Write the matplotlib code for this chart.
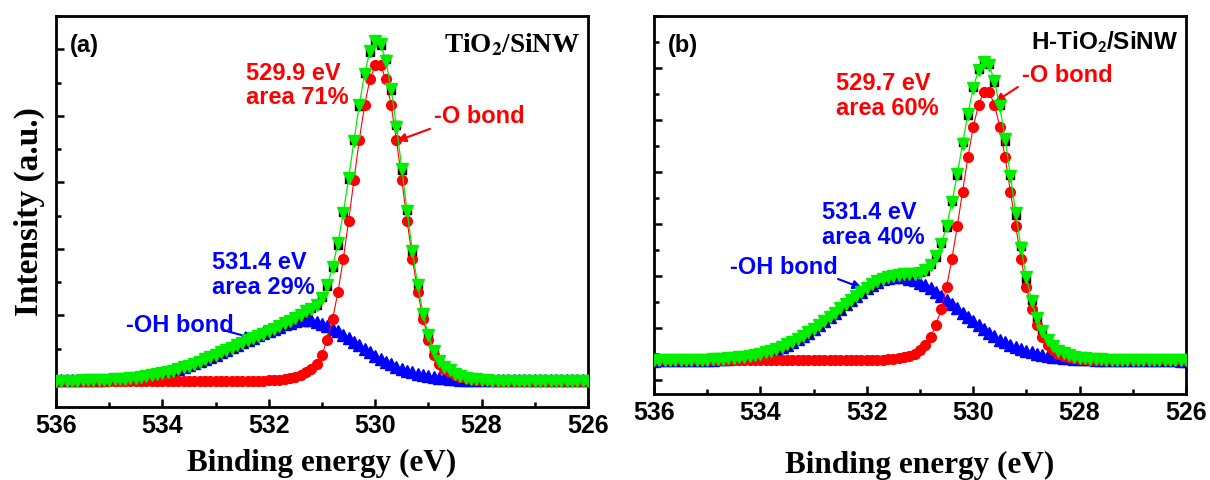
import numpy as np
import matplotlib
matplotlib.use("Agg")
import matplotlib.pyplot as plt
from matplotlib.ticker import MultipleLocator, NullFormatter

# binding energy grid, 0.1 eV steps from 536 to 526 eV
energy = np.linspace(536.0, 526.0, 101)

# ---- (a) TiO2/SiNW ----
raw_a = [1018, 1012, 1020, 1015, 1022, 1017, 1025, 1020, 1030, 1026,
         1036, 1033, 1045, 1044, 1058, 1060, 1078, 1080, 1102, 1108,
         1135, 1142, 1176, 1186, 1224, 1238, 1281, 1297, 1344, 1362,
         1412, 1434, 1486, 1506, 1560, 1580, 1633, 1652, 1700, 1718,
         1768, 1792, 1848, 1874, 1928, 1952, 2014, 2050, 2104, 2148,
         2270, 2440, 2730, 3060, 3550, 4045, 4630, 5150, 5645, 5955,
         6140, 6070, 5850, 5385, 4860, 4190, 3585, 2955, 2465, 2012,
         1710, 1450, 1325, 1215, 1180, 1108, 1090, 1052, 1055, 1030,
         1036, 1018, 1024, 1012, 1022, 1013, 1020, 1011, 1019, 1012,
         1020, 1010, 1018, 1013, 1021, 1011, 1019, 1012, 1020, 1013,
         1018]
o_a = [1015, 1015, 1015, 1015, 1015, 1015, 1015, 1015, 1015, 1015,
       1015, 1015, 1015, 1015, 1015, 1015, 1015, 1015, 1015, 1015,
       1015, 1015, 1015, 1015, 1015, 1015, 1015, 1015, 1015, 1015,
       1015, 1015, 1015, 1015, 1015, 1015, 1015, 1015, 1015, 1015,
       1020, 1025, 1030, 1040, 1050, 1070, 1100, 1150, 1195, 1275,
       1409, 1635, 1945, 2351, 2847, 3419, 4030, 4631, 5155, 5547,
       5756, 5756, 5547, 5155, 4631, 4030, 3419, 2847, 2351, 1945,
       1635, 1409, 1275, 1195, 1150, 1100, 1070, 1050, 1040, 1030,
       1025, 1020, 1015, 1015, 1015, 1015, 1015, 1015, 1015, 1015,
       1015, 1015, 1015, 1015, 1015, 1015, 1015, 1015, 1015, 1015,
       1015]
oh_a = [1020, 1021, 1022, 1023, 1024, 1025, 1027, 1029, 1031, 1034,
        1038, 1042, 1047, 1053, 1060, 1068, 1078, 1089, 1102, 1117,
        1134, 1153, 1174, 1197, 1222, 1249, 1278, 1309, 1341, 1375,
        1410, 1446, 1483, 1520, 1557, 1594, 1630, 1665, 1699, 1731,
        1762, 1795, 1830, 1862, 1890, 1912, 1926, 1930, 1922, 1902,
        1873, 1838, 1800, 1757, 1710, 1660, 1605, 1550, 1495, 1442,
        1392, 1345, 1302, 1262, 1226, 1194, 1165, 1140, 1118, 1099,
        1083, 1070, 1059, 1050, 1043, 1037, 1033, 1030, 1028, 1026,
        1025, 1024, 1023, 1023, 1022, 1022, 1022, 1021, 1021, 1021,
        1021, 1021, 1021, 1020, 1020, 1020, 1020, 1020, 1020, 1020,
        1020]
fit_a = [1015, 1016, 1017, 1018, 1019, 1020, 1022, 1024, 1026, 1029,
         1033, 1037, 1042, 1048, 1055, 1063, 1073, 1084, 1097, 1112,
         1129, 1148, 1169, 1192, 1217, 1244, 1273, 1304, 1336, 1370,
         1405, 1441, 1478, 1515, 1552, 1589, 1625, 1660, 1694, 1726,
         1762, 1800, 1840, 1882, 1920, 1962, 2006, 2060, 2097, 2157,
         2262, 2453, 2725, 3088, 3537, 4059, 4615, 5161, 5630, 5969,
         6128, 6081, 5829, 5397, 4837, 4204, 3564, 2967, 2449, 2024,
         1698, 1459, 1314, 1225, 1173, 1117, 1083, 1060, 1048, 1036,
         1030, 1024, 1018, 1018, 1017, 1017, 1017, 1016, 1016, 1016,
         1016, 1016, 1016, 1015, 1015, 1015, 1015, 1015, 1015, 1015,
         1015]

# ---- (b) H-TiO2/SiNW ----
raw_b = [1384, 1376, 1385, 1379, 1388, 1381, 1390, 1384, 1394, 1388,
         1400, 1394, 1409, 1405, 1422, 1420, 1442, 1445, 1470, 1478,
         1512, 1526, 1570, 1592, 1646, 1678, 1744, 1785, 1860, 1910,
         1995, 2052, 2144, 2206, 2304, 2370, 2468, 2532, 2628, 2686,
         2772, 2830, 2908, 2944, 2990, 3012, 3035, 3040, 3026, 3055,
         3080, 3100, 3230, 3360, 3640, 3940, 4450, 4935, 5570, 6090,
         6640, 6990, 7140, 7070, 6730, 6285, 5600, 4940, 4180, 3570,
         2950, 2545, 2170, 1955, 1750, 1660, 1552, 1520, 1465, 1458,
         1424, 1420, 1400, 1405, 1390, 1394, 1384, 1389, 1380, 1387,
         1378, 1385, 1377, 1384, 1376, 1383, 1375, 1382, 1376, 1381,
         1377]
o_b = [1382, 1382, 1382, 1382, 1382, 1382, 1382, 1382, 1382, 1382,
       1382, 1382, 1382, 1382, 1382, 1382, 1382, 1382, 1382, 1382,
       1382, 1382, 1382, 1382, 1382, 1382, 1382, 1382, 1382, 1382,
       1382, 1382, 1382, 1382, 1382, 1382, 1382, 1382, 1382, 1382,
       1383, 1385, 1388, 1390, 1395, 1405, 1418, 1435, 1462, 1505,
       1572, 1675, 1830, 2060, 2370, 2791, 3330, 3953, 4623, 5282,
       5863, 6296, 6529, 6529, 6296, 5863, 5282, 4623, 3953, 3330,
       2791, 2370, 2060, 1830, 1675, 1572, 1505, 1462, 1435, 1418,
       1405, 1395, 1390, 1388, 1385, 1383, 1382, 1382, 1382, 1382,
       1382, 1382, 1382, 1382, 1382, 1382, 1382, 1382, 1382, 1382,
       1382]
oh_b = [1375, 1376, 1377, 1378, 1379, 1380, 1381, 1383, 1385, 1387,
        1390, 1394, 1399, 1405, 1412, 1421, 1432, 1445, 1460, 1478,
        1500, 1527, 1558, 1594, 1634, 1680, 1731, 1787, 1848, 1913,
        1982, 2055, 2131, 2210, 2291, 2373, 2455, 2536, 2615, 2690,
        2760, 2830, 2890, 2935, 2965, 2980, 2985, 2975, 2950, 2915,
        2870, 2818, 2760, 2695, 2624, 2548, 2468, 2383, 2297, 2212,
        2129, 2049, 1973, 1902, 1837, 1777, 1722, 1673, 1630, 1592,
        1559, 1530, 1505, 1484, 1466, 1451, 1438, 1427, 1418, 1410,
        1404, 1399, 1395, 1391, 1388, 1386, 1384, 1382, 1381, 1380,
        1379, 1378, 1378, 1377, 1377, 1377, 1376, 1376, 1376, 1375,
        1375]
fit_b = [1379, 1380, 1381, 1382, 1383, 1384, 1385, 1387, 1389, 1391,
         1394, 1398, 1403, 1409, 1416, 1425, 1436, 1449, 1464, 1482,
         1504, 1531, 1562, 1598, 1638, 1684, 1735, 1791, 1852, 1917,
         1986, 2059, 2135, 2214, 2295, 2377, 2459, 2540, 2619, 2694,
         2765, 2837, 2900, 2947, 2982, 3007, 3025, 3032, 3034, 3042,
         3064, 3115, 3212, 3377, 3616, 3961, 4420, 4958, 5542, 6116,
         6614, 6967, 7124, 7053, 6755, 6262, 5626, 4918, 4205, 3544,
         2972, 2522, 2187, 1936, 1763, 1645, 1565, 1511, 1475, 1450,
         1431, 1416, 1407, 1401, 1395, 1391, 1388, 1386, 1385, 1384,
         1383, 1382, 1382, 1381, 1381, 1381, 1380, 1380, 1380, 1379,
         1379]

SANS = "Liberation Sans"
SERIF = "Liberation Serif"
RED, BLUE, GREEN = "#ff0000", "#0000ff", "#00ee00"

fig = plt.figure(figsize=(12.1, 4.8), dpi=100)
ax_a = fig.add_axes([56 / 1210, (480 - 407) / 480, 532 / 1210, 391 / 480])
ax_b = fig.add_axes([654 / 1210, (480 - 394) / 480, 532 / 1210, 378 / 480])


def draw_panel(ax, raw, comp_o, comp_oh, fit, ylim, xpad):
    ax.plot(energy, comp_oh, "-^", color=BLUE, ms=8.5, lw=0.8, zorder=2)
    ax.plot(energy, raw, "s", color="black", ms=6, zorder=3)
    ax.plot(energy, comp_o, "-o", color=RED, ms=7, lw=0.8, zorder=4)
    ax.plot(energy, fit, "-v", color=GREEN, mfc=GREEN, mec=GREEN,
            ms=8.5, lw=0.9, zorder=5)
    ax.set_xlim(536, 526)
    ax.set_ylim(*ylim)
    ax.xaxis.set_major_locator(MultipleLocator(2))
    ax.xaxis.set_minor_locator(MultipleLocator(1))
    ax.yaxis.set_major_locator(MultipleLocator(1000))
    ax.yaxis.set_minor_locator(MultipleLocator(500))
    ax.yaxis.set_major_formatter(NullFormatter())
    ax.tick_params(which="both", direction="in", top=False, right=False,
                   width=1.8, labelsize=18, pad=5)
    ax.tick_params(which="major", length=6)
    ax.tick_params(which="minor", length=3.5)
    for lab in ax.get_xticklabels():
        lab.set_fontfamily(SANS)
        lab.set_fontweight("bold")
    for sp in ax.spines.values():
        sp.set_linewidth(2)
    ax.set_xlabel("Binding energy (eV)", fontfamily=SERIF,
                  fontweight="bold", fontsize=22.5, labelpad=xpad)


def note(ax, x, y, s, color, **kw):
    ax.text(x, y, s, color=color, fontfamily=SANS, fontweight="bold",
            fontsize=17, ha="left", va="center", **kw)


def arrow(ax, start, end, color):
    ax.annotate("", xy=end, xytext=start,
                arrowprops=dict(arrowstyle="-|>", color=color, lw=1.5,
                                mutation_scale=13, shrinkA=0, shrinkB=0))


draw_panel(ax_a, raw_a, o_a, oh_a, fit_a, (621, 6500), 8)
draw_panel(ax_b, raw_b, o_b, oh_b, fit_b, (731, 8000), 19)

ax_a.set_ylabel("Intensity (a.u.)", fontfamily=SERIF, fontweight="bold",
                fontsize=24, labelpad=3)

# panel (a) annotations
note(ax_a, 535.74, 6061, "(a)", "black")
ax_a.text(526.15, 6061, r"TiO$_\mathbf{2}$/SiNW", fontfamily=SERIF,
          fontweight="bold", fontsize=19.5, ha="right", va="center",
          math_fontfamily="stix")
note(ax_a, 532.43, 5455, "529.9 eV\narea 71%", RED, linespacing=1.1)
note(ax_a, 528.89, 4985, "-O bond", RED)
arrow(ax_a, (528.97, 4803), (529.59, 4621), RED)
note(ax_a, 533.07, 2606, "531.4 eV\narea 29%", BLUE, linespacing=1.1)
note(ax_a, 534.68, 1848, "-OH bond", BLUE)
arrow(ax_a, (532.84, 1773), (532.28, 1652), BLUE)

# panel (b) annotations
note(ax_b, 535.74, 7442, "(b)", "black")
ax_b.text(526.15, 7500, r"H-TiO$_\mathbf{2}$/SiNW", fontfamily=SANS,
          fontweight="bold", fontsize=17.5, ha="right", va="center",
          math_fontfamily="stixsans")
note(ax_b, 532.58, 6462, "529.7 eV\narea 60%", RED, linespacing=1.1)
note(ax_b, 529.08, 6865, "-O bond", RED)
arrow(ax_b, (529.16, 6635), (529.59, 6346), RED)
note(ax_b, 532.84, 3981, "531.4 eV\narea 40%", BLUE, linespacing=1.1)
note(ax_b, 534.57, 3154, "-OH bond", BLUE)
arrow(ax_b, (532.54, 2942), (532.09, 2769), BLUE)

fig.savefig("out.png", dpi=100)
